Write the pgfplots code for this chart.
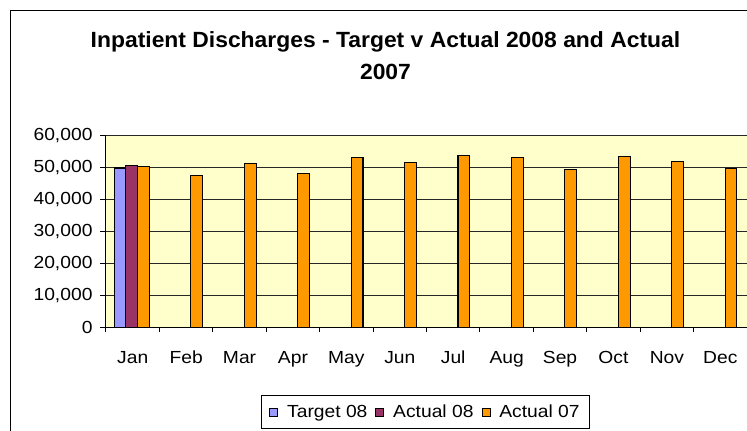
\documentclass[border=0pt]{standalone}
\usepackage{pgfplots}
\pgfplotsset{compat=1.18}
\usepackage{fontspec}
\setmainfont{Liberation Sans}[FakeStretch=1.1]
\newfontfamily\titlefont{Liberation Sans}[FakeStretch=1.04]
\definecolor{plotbg}{HTML}{FFFFCC}
\definecolor{tgt}{HTML}{9999FF}
\definecolor{act08}{HTML}{993366}
\definecolor{act07}{HTML}{FF9900}
\begin{document}
\begin{tikzpicture}[x=1pt,y=1pt]
\useasboundingbox (0pt,0pt) rectangle (747pt,431pt);
\fill[white] (0pt,0pt) rectangle (747pt,431pt);
\draw[line width=1pt] (10.5pt,-5pt) -- (10.5pt,420.5pt) -- (760pt,420.5pt);
\node[anchor=base,font=\titlefont\bfseries\fontsize{22}{26}\selectfont] at (385.5pt,383.7pt) {Inpatient Discharges - Target v Actual 2008 and Actual};
\node[anchor=base,font=\titlefont\bfseries\fontsize{22}{26}\selectfont] at (385.5pt,351.7pt) {2007};
\begin{axis}[
  at={(106pt,103.7pt)}, anchor=south west,
  scale only axis, width=641pt, height=191.6pt,
  xmin=-0.5, xmax=11.5, ymin=0, ymax=60000,
  axis lines=left, axis line style={-, line width=1pt, black},
  axis background/.style={fill=plotbg, draw=gray, line width=1pt},
  xtick={0,...,11},
  xticklabels={Jan,Feb,Mar,Apr,May,Jun,Jul,Aug,Sep,Oct,Nov,Dec},
  major x tick style={draw=none},
  minor xtick={-0.5,0.5,...,11.5},
  minor x tick style={line width=1pt, black},
  minor tick length=5pt,
  ytick={0,10000,...,60000},
  major tick length=6pt,
  tick align=outside,
  y tick style={line width=1pt, black},
  ymajorgrids, major grid style={line width=0.9pt, black!85},
  scaled y ticks=false,
  /pgf/number format/assume math mode=true,
  yticklabel style={/pgf/number format/1000 sep={,}},
  tick label style={font=\fontsize{17.5}{20}\selectfont},
  yticklabel style={xshift=-4pt},
  xticklabel style={anchor=base, yshift=-30pt},
  ybar=0pt, bar width=11.8pt,
  legend columns=3,
  legend style={at={(0.4984,-0.442)}, anchor=center, draw=black, line width=0.8pt,
    font=\fontsize{17.5}{20}\selectfont, inner xsep=8pt, inner ysep=7pt,
    /tikz/every odd column/.append style={column sep=7pt},
    /tikz/every even column/.append style={column sep=6pt}},
  legend image code/.code={\draw[#1, line width=0.8pt] (0pt,-4pt) rectangle (8pt,4pt);},
]
\addplot[fill=tgt, draw=black, line width=1.1pt, bar shift=-12.5pt] coordinates {(0,49900)};
\addplot[fill=act08, draw=black, line width=1.1pt, bar shift=-1pt] coordinates {(0,50700)};
\addplot[fill=act07, draw=black, line width=1.1pt, bar shift=10.7pt] coordinates {
 (0,50300) (1,47400) (2,51200) (3,48300) (4,53200) (5,51700)
 (6,53700) (7,53200) (8,49300) (9,53600) (10,51800) (11,49800)};
\legend{Target 08, Actual 08, Actual 07}
\end{axis}
\end{tikzpicture}
\end{document}
